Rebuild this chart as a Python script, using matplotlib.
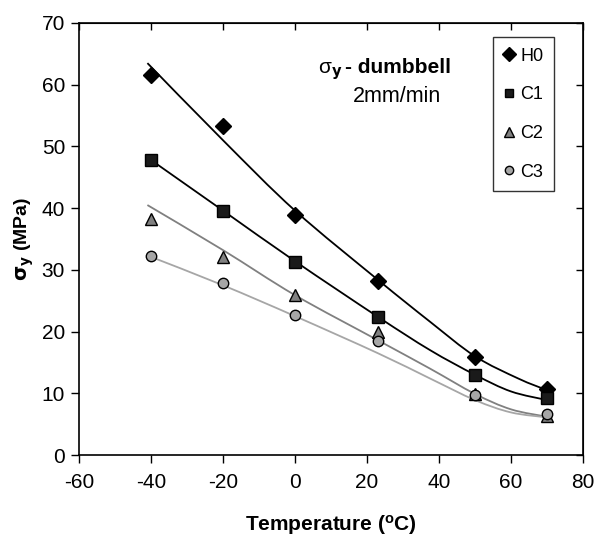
import numpy as np
import matplotlib
matplotlib.use("Agg")
import matplotlib.pyplot as plt
from matplotlib.lines import Line2D
from matplotlib.path import Path
from matplotlib.patches import PathPatch

plt.rcParams['font.family'] = ['Liberation Sans', 'DejaVu Sans']
plt.rcParams['axes.unicode_minus'] = False

# measured points
temps = [-40, -20, 0, 23, 50, 70]
H0 = [61.6, 53.3, 38.9, 28.2, 15.9, 10.7]
C1 = [47.8, 39.6, 31.2, 22.4, 12.9, 9.2]
C2 = [38.2, 32.1, 25.9, 20.0, 9.9, 6.3]
C3 = [32.2, 27.8, 22.7, 18.4, 9.8, 6.6]
series_names = ['H0', 'C1', 'C2', 'C3']

# fitted curves
H0_fit_x = [-41, -20, 0, 23, 37.5, 50, 62, 70]
H0_fit_y = [63.5, 51.0, 39.6, 28.4, 21.6, 16.0, 12.4, 10.5]
C1_fit_x = [-40, -20, 0, 23, 37.5, 50, 60, 70]
C1_fit_y = [47.8, 39.6, 31.4, 22.4, 17.0, 13.0, 10.3, 8.9]
C2_fit_x = [-41, -20, 0, 23, 37.5, 50, 60, 70]
C2_fit_y = [40.5, 33.2, 25.9, 18.6, 14.0, 9.9, 7.4, 6.2]
C3_fit_x = [-40, -20, 0, 23, 37.5, 50, 60, 70]
C3_fit_y = [32.1, 27.5, 22.5, 16.5, 12.4, 8.9, 6.9, 6.1]

xticks = [-60, -40, -20, 0, 20, 40, 60, 80]
yticks = [0, 10, 20, 30, 40, 50, 60, 70]

fig = plt.figure(figsize=(5.99, 5.36), dpi=100)
ax = fig.add_axes([0.1319, 0.1511, 0.8414, 0.806])

styles = {
    'H0': dict(marker='D', ms=8.5, mfc='black', line='black'),
    'C1': dict(marker='s', ms=8, mfc='#1a1a1a', line='black'),
    'C2': dict(marker='^', ms=9, mfc='#808080', line='#808080'),
    'C3': dict(marker='o', ms=7.5, mfc='#a6a6a6', line='#a6a6a6'),
}
data = {'H0': H0, 'C1': C1, 'C2': C2, 'C3': C3}
fits = {'H0': (H0_fit_x, H0_fit_y), 'C1': (C1_fit_x, C1_fit_y),
        'C2': (C2_fit_x, C2_fit_y), 'C3': (C3_fit_x, C3_fit_y)}


def smooth_path(xs, ys):
    """Catmull-Rom style smoothed path via cubic Bezier segments."""
    pts = np.column_stack([xs, ys]).astype(float)
    n = len(pts)
    verts = [pts[0]]
    codes = [Path.MOVETO]
    for i in range(n - 1):
        p0 = pts[i - 1] if i > 0 else pts[i]
        p1 = pts[i]
        p2 = pts[i + 1]
        p3 = pts[i + 2] if i + 2 < n else pts[i + 1]
        c1 = p1 + (p2 - p0) / 6.0
        c2 = p2 - (p3 - p1) / 6.0
        verts += [c1, c2, p2]
        codes += [Path.CURVE4] * 3
    return Path(verts, codes)


for name in series_names:
    st = styles[name]
    fx, fy = fits[name]
    ax.add_patch(PathPatch(smooth_path(fx, fy), fill=False, edgecolor=st['line'],
                           lw=1.3, zorder=2))
for name in series_names:
    st = styles[name]
    ax.plot(temps, data[name], linestyle='none', marker=st['marker'], ms=st['ms'],
            mfc=st['mfc'], mec='black', mew=1.0, zorder=3)

ax.set_xlim(-60, 80)
ax.set_ylim(0, 70)
ax.set_xticks(xticks)
ax.set_yticks(yticks)
ax.tick_params(axis='both', direction='out', length=6, width=1, labelsize=15, pad=4)
ax.tick_params(axis='x', pad=7)
for s in ax.spines.values():
    s.set_linewidth(1.2)

top = ax.secondary_xaxis('top')
top.set_xticks(xticks)
top.tick_params(direction='in', length=5, width=1, labeltop=False)
right = ax.secondary_yaxis('right')
right.set_yticks(yticks)
right.tick_params(direction='in', length=5, width=1, labelright=False)

xl = ax.set_xlabel('Temperature ($\\mathregular{^o}$C)', fontsize=15, fontweight='bold',
                   labelpad=12)
ax.xaxis.set_label_coords(0.5, -0.135)
ax.xaxis.label.set_va('top')
ax.set_ylabel('$\\mathbf{\\sigma_y}$ (MPa)', fontsize=14, fontweight='bold', labelpad=4)

ax.text(0.522, 0.884, '$\\mathregular{\\sigma}_\\mathbf{y}$', transform=ax.transAxes,
        fontsize=15, ha='right', va='baseline')
ax.text(0.528, 0.884, '- dumbbell', transform=ax.transAxes, fontsize=15, fontweight='bold',
        ha='left', va='baseline')
ax.text(0.631, 0.818, '2mm/min', transform=ax.transAxes, fontsize=15.5, ha='center',
        va='baseline')

handles = []
for name in series_names:
    st = styles[name]
    handles.append(Line2D([], [], linestyle='none', marker=st['marker'], ms=st['ms'] * 0.8,
                          mfc=st['mfc'], mec='black', mew=1.0, label=name))
leg = ax.legend(handles=handles, loc='upper right', bbox_to_anchor=(0.9425, 0.968),
                borderaxespad=0, fontsize=13, frameon=True, fancybox=False, edgecolor='black',
                handlelength=0.6, handletextpad=0.3, labelspacing=1.2, borderpad=0.6)
leg.get_frame().set_linewidth(1.0)

fig.savefig('out.png', dpi=100)
